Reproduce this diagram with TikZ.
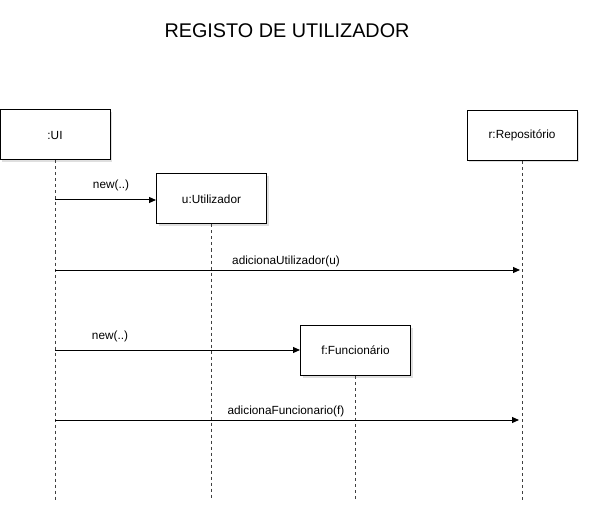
\documentclass[tikz,border=0pt]{standalone}
\usepackage{fontspec}
\setmainfont{Liberation Sans}
\usetikzlibrary{arrows.meta,shadows}
\begin{document}
\begin{tikzpicture}[x=1pt,y=-1pt,
  obj/.style={draw=black,fill=white,line width=1pt,minimum width=110pt,minimum height=50pt,inner sep=0pt,font=\fontsize{11.8}{14}\selectfont,
    drop shadow={shadow xshift=2pt,shadow yshift=-2pt,opacity=0.25,fill=gray}},
  life/.style={draw=black!75,line width=1pt,dash pattern=on 3pt off 3pt},
  msg/.style={draw=black,line width=1pt,-{Triangle[length=7pt,width=6pt]}},
  lbl/.style={font=\fontsize{11.8}{14}\selectfont,inner sep=0pt}]
\useasboundingbox (0,0) rectangle (589,513);
\node[font=\fontsize{19.8}{24}\selectfont] (title) at (287,31) {REGISTO DE UTILIZADOR};
\node[obj] (ui) at (55,135) {:UI};
\node[obj] (repo) at (522,135.5) {r:Repositório};
\node[obj] (util) at (211.5,199) {u:Utilizador};
\node[obj] (func) at (355.5,350.5) {f:Funcionário};
\coordinate (uiend) at (55,500);
\coordinate (repoend) at (522,500);
\coordinate (utilend) at (211.5,500);
\coordinate (funcend) at (355.5,500);
\draw[life] (ui.south) -- (uiend);
\draw[life] (repo.south) -- (repoend);
\draw[life] (util.south) -- (utilend);
\draw[life] (func.south) -- (funcend);
% messages
\coordinate (m1s) at (55,200);
\draw[msg] (m1s) -- (util.west |- m1s);
\node[lbl] (l1) at (111,185) {new(..)};
\coordinate (m2s) at (55,270);
\coordinate (m2e) at (520,270);
\draw[msg] (m2s) -- (m2e);
\node[lbl] (l2) at (286,261) {adicionaUtilizador(u)};
\coordinate (m3s) at (55,350);
\draw[msg] (m3s) -- (func.west |- m3s);
\node[lbl] (l3) at (110,336) {new(..)};
\coordinate (m4s) at (55,420);
\coordinate (m4e) at (519,420);
\draw[msg] (m4s) -- (m4e);
\node[lbl] (l4) at (286,411) {adicionaFuncionario(f)};
\end{tikzpicture}
\end{document}
